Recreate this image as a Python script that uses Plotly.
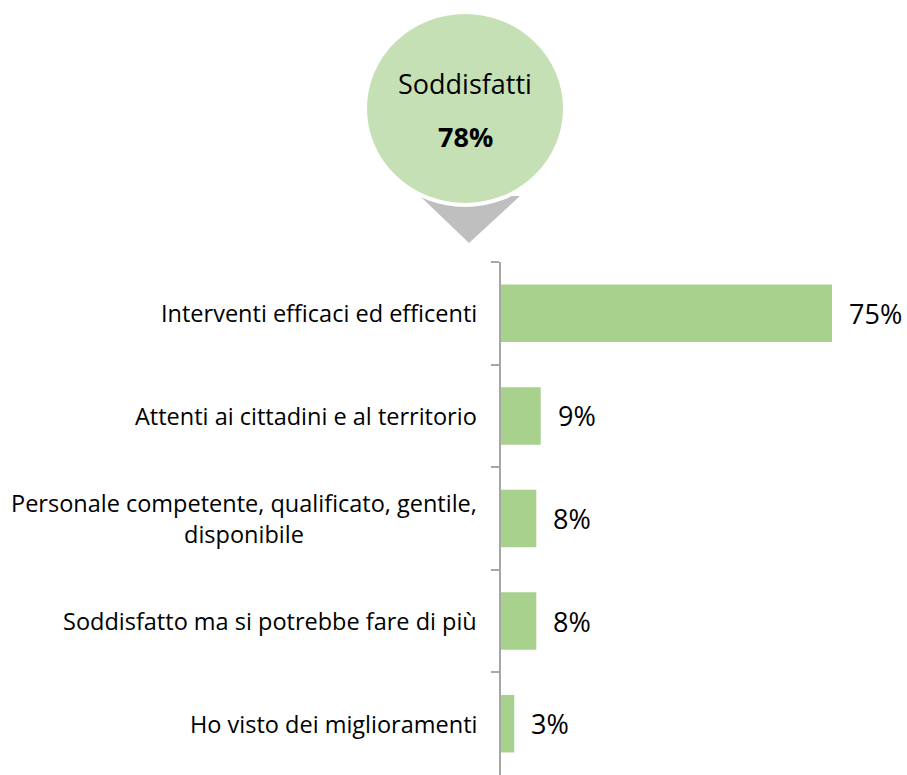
import plotly.graph_objects as go

categories = [
    "Interventi efficaci ed efficenti",
    "Attenti ai cittadini e al territorio",
    "Personale competente, qualificato, gentile,<br>disponibile",
    "Soddisfatto ma si potrebbe fare di più",
    "Ho visto dei miglioramenti",
]
values = [75, 9, 8, 8, 3]
summary_label = "Soddisfatti"
summary_value = 78

W, H = 907, 775
L, R, T, B = 501, 0, 262, 0
FONT = "Open Sans"


def px(x):
    # page pixel x -> paper coordinate
    return (x - L) / (W - L - R)


def py(y):
    # page pixel y -> paper coordinate
    return (H - B - y) / (H - T - B)


fig = go.Figure()

fig.add_trace(go.Bar(
    x=values,
    y=categories,
    orientation="h",
    width=0.56,
    marker=dict(color="#a9d18e", line=dict(width=0)),
    hoverinfo="skip",
))

# value labels right of bars
for cat, v in zip(categories, values):
    fig.add_annotation(
        x=v, y=cat, xref="x", yref="y",
        text=f"{v}%", showarrow=False,
        xanchor="left", xshift=15,
        font=dict(family=FONT, size=27, color="#000000"),
    )

# category labels, centred multi-line
for cat in categories:
    fig.add_annotation(
        x=0, y=cat, xref="paper", yref="y",
        text=cat, showarrow=False,
        xanchor="right", xshift=-22, align="center",
        font=dict(family=FONT, size=23.5, color="#000000"),
    )

# grey pointer triangle + circle badge
fig.add_shape(
    type="path", xref="paper", yref="paper",
    path=f"M {px(420)} {py(196)} L {px(520)} {py(196)} L {px(469)} {py(243)} Z",
    fillcolor="#bfbfbf", line=dict(width=0), layer="above",
)
fig.add_shape(
    type="circle", xref="paper", yref="paper",
    x0=px(365), x1=px(565), y0=py(205), y1=py(12),
    fillcolor="#c5e0b4", line=dict(color="#ffffff", width=4), layer="above",
)
fig.add_annotation(
    x=px(465), y=py(84), xref="paper", yref="paper",
    xanchor="center", yanchor="middle",
    text=summary_label, showarrow=False,
    font=dict(family=FONT, size=27, color="#000000"),
)
fig.add_annotation(
    x=px(465), y=py(137), xref="paper", yref="paper",
    xanchor="center", yanchor="middle",
    text=f"<b>{summary_value}%</b>", showarrow=False,
    font=dict(family=FONT, size=27, color="#000000"),
)

fig.update_layout(
    width=W, height=H,
    margin=dict(l=L, r=R, t=T, b=B),
    paper_bgcolor="white", plot_bgcolor="white",
    showlegend=False,
    bargap=0.44,
    xaxis=dict(range=[0, 92], visible=False, fixedrange=True),
    yaxis=dict(
        autorange="reversed", showticklabels=False,
        showline=True, linecolor="#a6a6a6", linewidth=1.5,
        ticks="outside", tickson="boundaries", ticklen=8,
        tickcolor="#a6a6a6", tickwidth=1.5,
        showgrid=False, zeroline=False, fixedrange=True,
    ),
)

fig.write_html(
    "out.html",
    config={"displayModeBar": False},
    post_script="document.body.style.margin='0';document.body.style.overflow='hidden';",
)
